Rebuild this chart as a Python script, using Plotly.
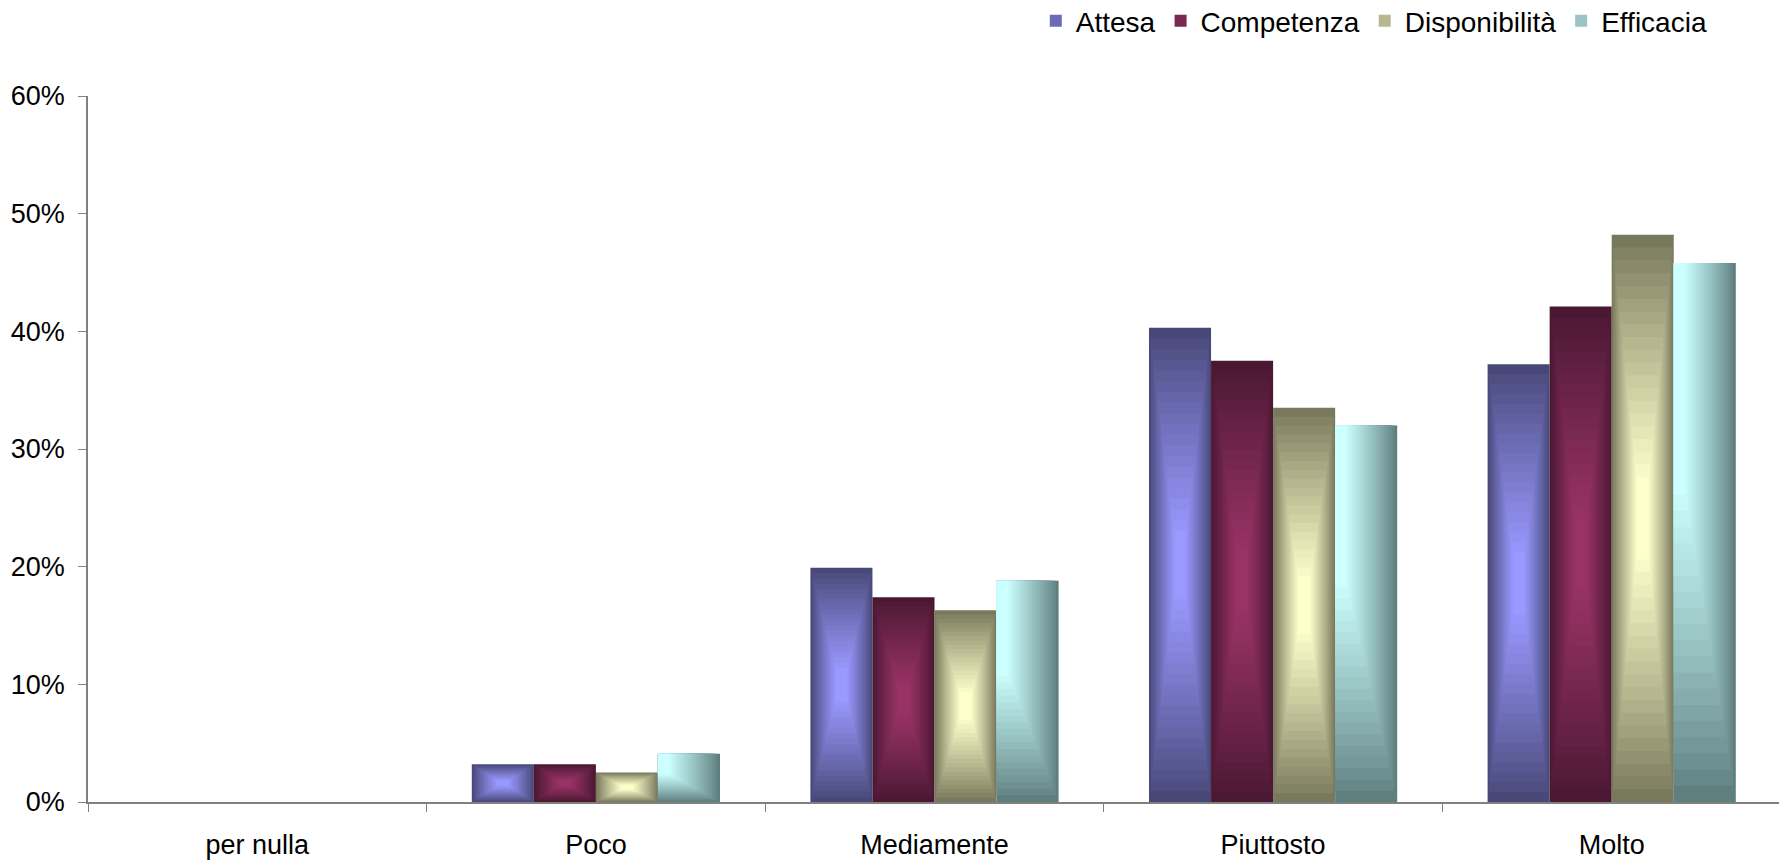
import plotly.graph_objects as go

categories = ["per nulla", "Poco", "Mediamente", "Piuttosto", "Molto"]
series_names = ["Attesa", "Competenza", "Disponibilità", "Efficacia"]
attesa = [0.0, 0.032, 0.199, 0.403, 0.372]
competenza = [0.0, 0.032, 0.174, 0.375, 0.421]
disponibilita = [0.0, 0.025, 0.163, 0.335, 0.482]
efficacia = [0.0, 0.041, 0.188, 0.320, 0.458]
values = [attesa, competenza, disponibilita, efficacia]

dark_colors = ["#484878", "#4a1832", "#78785c", "#5f7f7f"]
light_colors = ["#9999ff", "#993366", "#ffffcc", "#ccffff"]
legend_colors = ["#6a6ab8", "#7a2850", "#b8b890", "#9cc4c4"]

FONT = "Liberation Sans, Arial, sans-serif"
N = 20
GROUP = 0.733
W = GROUP / 4
START = -GROUP / 2


def hex2rgb(h):
    h = h.lstrip("#")
    return tuple(int(h[i:i + 2], 16) for i in (0, 2, 4))


def mix(c1, c2, s):
    a, b = hex2rgb(c1), hex2rgb(c2)
    return "rgb(%d,%d,%d)" % tuple(round(a[j] + (b[j] - a[j]) * s) for j in range(3))


fig = go.Figure()
for i, (name, vals) in enumerate(zip(series_names, values)):
    for k in range(N):
        t = k / N
        s = (k / (N - 1)) ** 0.9
        color = mix(dark_colors[i], light_colors[i], s)
        if i < 3:
            wfrac = 1 - 0.85 * t
            hfrac = 1 - 0.9 * t
            width = W * wfrac
            offset = START + i * W + (W - width) / 2
            base = [v * (1 - hfrac) / 2 for v in vals]
            ys = [v * hfrac for v in vals]
        else:
            wfrac = 1 - 0.85 * t
            width = W * wfrac
            offset = START + i * W
            base = [v * 0.6 * t for v in vals]
            ys = [v - b for v, b in zip(vals, base)]
        fig.add_trace(go.Bar(
            x=categories, y=ys, base=base,
            width=width, offset=offset,
            marker=dict(color=color, line=dict(width=0)),
            name=name, legendgroup=name,
            showlegend=False,
            hoverinfo="skip" if k > 0 else None,
        ))
    # legend entry (no visible marks: all-None values)
    fig.add_trace(go.Bar(
        x=categories, y=[None] * len(categories), name=name, legendgroup=name,
        marker=dict(color=legend_colors[i], line=dict(width=0)), showlegend=True,
        hoverinfo="skip",
    ))

fig.update_layout(
    barmode="overlay",
    width=1779, height=857,
    margin=dict(l=80, r=6, t=88, b=63, autoexpand=False),
    paper_bgcolor="white", plot_bgcolor="white",
    font=dict(family=FONT, size=27, color="black"),
    legend=dict(orientation="h", xanchor="right", x=0.9597, yanchor="top", y=1.1416,
                font=dict(family=FONT, size=28, color="black"),
                bgcolor="rgba(0,0,0,0)", traceorder="normal"),
    xaxis=dict(type="category", showline=True, linecolor="#808080", linewidth=1.5,
               ticks="outside", tickson="boundaries", ticklen=8, tickcolor="#808080",
               showgrid=False, zeroline=False, ticklabelstandoff=18,
               range=[-0.5, 4.5]),
    yaxis=dict(range=[0, 0.6], dtick=0.1, tickformat=".0%", showline=True,
               linecolor="#808080", linewidth=1.5, ticks="outside", ticklen=8,
               tickcolor="#808080", showgrid=False, zeroline=False, ticklabelstandoff=8),
)

fig.write_html("out.html")
